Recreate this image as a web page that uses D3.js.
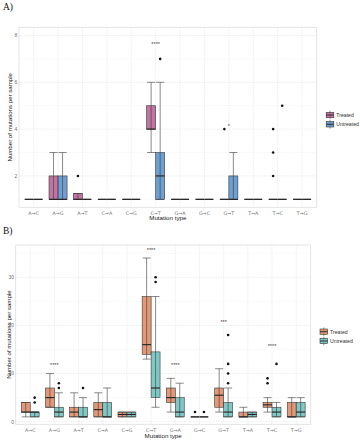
<!DOCTYPE html>
<html>
<head>
<meta charset="utf-8">
<script src="https://cdn.jsdelivr.net/npm/d3@7"></script>
<style>
  body { margin: 0; background: #fff; }
  svg { display: block; font-family: "Liberation Sans", Arial, sans-serif; }
</style>
</head>
<body>
<svg id="chart" width="360" height="440"></svg>
<script>
const types = ["A→C", "A→G", "A→T", "C→A", "C→G", "C→T", "G→A", "G→C", "G→T", "T→A", "T→C", "T→G"];
const groups = ["Treated", "Untreated"];

// box stats per type: [min, q1, median, q3, max]
const aTreated = [[1,1,1,1,1],[1,1,1,2,3],[1,1,1,1.25,1.25],[1,1,1,1,1],[1,1,1,1,1],[3,4,4,5,6],
                  [1,1,1,1,1],[1,1,1,1,1],[1,1,1,1,1],[1,1,1,1,1],[1,1,1,1,1],[1,1,1,1,1]];
const aUntreated = [[1,1,1,1,1],[1,1,1,2,3],[1,1,1,1,1],[1,1,1,1,1],[1,1,1,1,1],[1,1,2,3,6],
                    [1,1,1,1,1],[1,1,1,1,1],[1,1,1,2,3],[1,1,1,1,1],[1,1,1,1,1],[1,1,1,1,1]];
const aTreatedOut = [[],[],[2],[],[],[],[],[],[4],[],[2,3,4],[]];
const aUntreatedOut = [[],[],[],[],[],[7],[],[],[],[],[5],[]];
const aSigTypes = ["C→T", "G→T"];
const aSigLabels = ["****", "*"];
const aSigY = [7.65, 4.15];

const bTreated = [[1,2,2,4,4],[3,3,5,7,10],[1,1,2,3,6],[1,1,2.5,4,6],[1,1,1.5,2,2],[13,14,16,26,34],
                  [2,4,5,7,9],[1,1,1,1,1],[2,3,5.5,7,11],[1,1,1,2,3],[2,3,3.5,4,5],[1,1,1,4,5]];
const bUntreated = [[1,1,2,2,2],[1,1,2,3,6],[1,1,1,3,5],[1,1,1,4,7],[1,1,1.5,2,2],[3,5,7,14.5,26],
                    [1,1,2,5,8],[1,1,1,1,1],[1,1,2,4,7],[1,1,1.5,2,2],[1,1,2,3,4],[1,1,2,4,5]];
const bTreatedOut = [[],[],[],[],[],[],[],[2],[],[],[8,9],[]];
const bUntreatedOut = [[4,5],[7,8],[7],[],[],[29,30],[],[2],[8,10,12,18],[],[12],[]];
const bSigTypes = ["A→G", "C→T", "G→A", "G→T", "T→C"];
const bSigLabels = ["****", "****", "****", "***", "****"];
const bSigY = [11.8, 35.8, 11.8, 20.8, 15.8];

const svg = d3.select("#chart");

function drawPanel(p) {
  const g = svg.append("g");
  const x = d3.scalePoint().domain(types).range([p.x0, p.x1]).padding(0.6);
  const y = d3.scaleLinear().domain(p.yDomain).range([p.y1, p.y0]);
  const step = x.step();
  const bw = step * 0.37;
  const color = d3.scaleOrdinal().domain(groups).range(p.colors);

  // panel title
  svg.append("text").attr("x", p.titleX).attr("y", p.titleY)
    .attr("font-family", "Liberation Serif, serif").attr("font-size", 9.5)
    .attr("fill", "#111").text(p.title);

  // grid
  const grid = g.append("g");
  grid.selectAll("line.minor").data(p.minorTicks).join("line")
    .attr("x1", p.x0).attr("x2", p.x1).attr("y1", d => y(d)).attr("y2", d => y(d))
    .attr("stroke", "#eeeeee").attr("stroke-width", 0.5).attr("stroke-dasharray", "1.5,1");
  grid.selectAll("line.major").data(p.ticks).join("line")
    .attr("x1", p.x0).attr("x2", p.x1).attr("y1", d => y(d)).attr("y2", d => y(d))
    .attr("stroke", "#e6e6e6").attr("stroke-width", 0.7).attr("stroke-dasharray", "1.5,1");
  grid.selectAll("line.vert").data(types).join("line")
    .attr("x1", d => x(d)).attr("x2", d => x(d)).attr("y1", p.y0).attr("y2", p.y1)
    .attr("stroke", "#e6e6e6").attr("stroke-width", 0.7).attr("stroke-dasharray", "1.5,1");
  g.append("rect").attr("x", p.x0).attr("y", p.y0)
    .attr("width", p.x1 - p.x0).attr("height", p.y1 - p.y0)
    .attr("fill", "none").attr("stroke", "#dedede").attr("stroke-width", 0.8);

  // boxes
  const boxes = [];
  types.forEach((t, i) => {
    groups.forEach((grp, j) => {
      const s = p.stats[j][i];
      boxes.push({ t, grp, cx: x(t) + (j === 0 ? -bw / 2 : bw / 2),
        min: s[0], q1: s[1], med: s[2], q3: s[3], max: s[4], out: p.outs[j][i] });
    });
  });

  const bg = g.append("g");
  bg.selectAll("rect.box").data(boxes).join("rect")
    .attr("x", d => d.cx - bw / 2).attr("width", bw)
    .attr("y", d => y(d.q3)).attr("height", d => y(d.q1) - y(d.q3))
    .attr("fill", d => color(d.grp)).attr("fill-opacity", 0.8)
    .attr("stroke", "#3a3a3a").attr("stroke-width", 0.6);
  bg.selectAll("line.whisk").data(boxes).join("line")
    .attr("x1", d => d.cx).attr("x2", d => d.cx)
    .attr("y1", d => y(d.min)).attr("y2", d => y(d.max))
    .attr("stroke", "#3a3a3a").attr("stroke-width", 0.6);
  const caps = boxes.flatMap(d => [{ cx: d.cx, v: d.min }, { cx: d.cx, v: d.max }]);
  bg.selectAll("line.cap").data(caps).join("line")
    .attr("x1", d => d.cx - bw * 0.45).attr("x2", d => d.cx + bw * 0.45)
    .attr("y1", d => y(d.v)).attr("y2", d => y(d.v))
    .attr("stroke", "#3a3a3a").attr("stroke-width", 0.6);
  bg.selectAll("line.med").data(boxes).join("line")
    .attr("x1", d => d.cx - bw / 2).attr("x2", d => d.cx + bw / 2)
    .attr("y1", d => y(d.med)).attr("y2", d => y(d.med))
    .attr("stroke", "#222").attr("stroke-width", 1.1);

  const outs = boxes.flatMap(d => d.out.map(v => ({ cx: d.cx, v })));
  bg.selectAll("circle.out").data(outs).join("circle")
    .attr("cx", d => d.cx).attr("cy", d => y(d.v)).attr("r", 1.3).attr("fill", "#111");

  // significance labels
  g.selectAll("text.sig").data(p.sigTypes).join("text")
    .attr("x", d => x(d)).attr("y", (d, i) => y(p.sigY[i]) + 2.6)
    .attr("text-anchor", "middle").attr("font-size", 5.5).attr("fill", "#444")
    .text((d, i) => p.sigLabels[i]);

  // axes labels
  g.selectAll("text.ytick").data(p.ticks).join("text")
    .attr("x", p.x0 - 1.6).attr("y", d => y(d) + 1.8)
    .attr("text-anchor", "end").attr("font-size", 5).attr("fill", "#707070")
    .text(d => d);
  g.selectAll("text.xtick").data(types).join("text")
    .attr("x", d => x(d)).attr("y", p.y1 + 7.2)
    .attr("text-anchor", "middle").attr("font-family", "DejaVu Sans, sans-serif")
    .attr("font-size", 4.8).attr("fill", "#707070")
    .text(d => d);
  g.append("text").attr("x", (p.x0 + p.x1) / 2).attr("y", p.xTitleY)
    .attr("text-anchor", "middle").attr("font-size", 6.2).attr("fill", "#222")
    .text("Mutation type");
  g.append("text")
    .attr("transform", `translate(${p.yTitleX},${(p.y0 + p.y1) / 2}) rotate(-90)`)
    .attr("text-anchor", "middle").attr("font-size", 6.1).attr("fill", "#222")
    .text("Number of mutations per sample");

  // legend
  const lg = g.append("g");
  groups.forEach((grp, j) => {
    const cy = p.legY[j];
    const kx = p.legX;
    lg.append("line").attr("x1", kx + 3.8).attr("x2", kx + 3.8)
      .attr("y1", cy - 4.2).attr("y2", cy + 4.2).attr("stroke", "#3a3a3a").attr("stroke-width", 0.6);
    lg.append("rect").attr("x", kx).attr("y", cy - 2.7).attr("width", 7.6).attr("height", 5.4)
      .attr("fill", color(grp)).attr("fill-opacity", 0.8)
      .attr("stroke", "#3a3a3a").attr("stroke-width", 0.6);
    lg.append("line").attr("x1", kx).attr("x2", kx + 7.6).attr("y1", cy).attr("y2", cy)
      .attr("stroke", "#222").attr("stroke-width", 0.9);
    lg.append("text").attr("x", kx + 10).attr("y", cy + 1.9)
      .attr("font-size", 5.2).attr("fill", "#333").text(grp);
  });
}

drawPanel({
  title: "A)", titleX: 3, titleY: 10,
  x0: 19, x1: 316.7, y0: 27.3, y1: 207.3, yDomain: [0.66, 8.35],
  ticks: [2, 4, 6, 8], minorTicks: [1, 3, 5, 7],
  colors: ["#b25089", "#4a87c6"],
  stats: [aTreated, aUntreated], outs: [aTreatedOut, aUntreatedOut],
  sigTypes: aSigTypes, sigLabels: aSigLabels, sigY: aSigY,
  xTitleY: 220, yTitleX: 11.5,
  legX: 326.2, legY: [115, 124.3]
});

drawPanel({
  title: "B)", titleX: 3, titleY: 234,
  x0: 15.7, x1: 310.7, y0: 245, y1: 424.3, yDomain: [-0.54, 36.7],
  ticks: [0, 10, 20, 30], minorTicks: [5, 15, 25, 35],
  colors: ["#dc7e55", "#60bab8"],
  stats: [bTreated, bUntreated], outs: [bTreatedOut, bUntreatedOut],
  sigTypes: bSigTypes, sigLabels: bSigLabels, sigY: bSigY,
  xTitleY: 438, yTitleX: 10.5,
  legX: 320, legY: [331.7, 341]
});
</script>
</body>
</html>
